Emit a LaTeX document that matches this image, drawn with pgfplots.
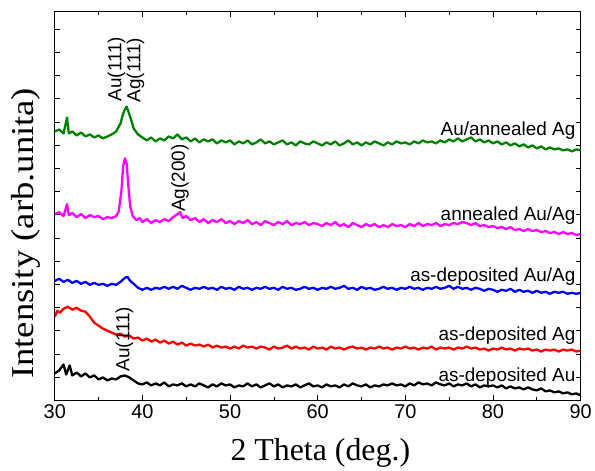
\documentclass[border=0pt]{standalone}
\usepackage{pgfplots}
\pgfplotsset{compat=1.18}
\usepackage{fontspec}
\setmainfont{Liberation Serif}
\newfontfamily\arial{Liberation Sans}
\definecolor{cgreen}{RGB}{0,128,0}
\definecolor{cmag}{RGB}{255,0,255}
\begin{document}
\begin{tikzpicture}
\begin{axis}[
  at={(0,0)}, anchor=south west,
  width=528pt, height=390pt, scale only axis,
  xmin=30, xmax=90, ymin=0, ymax=390,
  xtick={30,40,...,90}, minor x tick num=1,
  ytick={0,23.3,...,390}, yticklabel=\empty,
  tick align=inside,
  major tick length=5pt, minor tick length=3.5pt,
  axis line style={line width=1pt},
  every tick/.style={black, line width=0.7pt},
  /pgf/number format/assume math mode=true,
  xticklabel style={font=\arial\fontsize{20}{20}\selectfont, yshift=-1pt},
  xlabel={2 Theta (deg.)},
  xlabel style={font=\fontsize{32}{32}\selectfont, at={(axis description cs:0.505,-0.136)}, anchor=center},
  ylabel={\scalebox{1.15}[1]{Intensity (arb.unita)}},
  ylabel style={font=\fontsize{32}{32}\selectfont, at={(axis description cs:-0.055,0.43)}, anchor=center},
  every axis plot/.append style={line width=2.3pt, line join=round},
]
% black: as-deposited Au
\addplot[black] table[row sep=\\] {x y\\
30.0 27\\ 30.5 30\\ 31.0 36\\ 31.3 26\\ 31.7 35\\ 32.0 25\\ 32.5 28\\ 33.0 24\\ 33.5 27\\ 34.0 23\\
34.5 25\\ 35.0 21\\ 35.5 23\\ 36.0 20\\ 36.5 22\\ 37.0 21\\ 37.5 24\\ 38.0 25\\ 38.5 23\\ 39.0 20\\
39.5 17\\ 40.0 16\\ 40.5 18\\ 41.0 15\\ 41.5 17\\ 42.0 15\\ 42.5 18\\ 43.0 14\\ 43.5 16\\ 44.0 15\\
44.5 17\\ 45.0 14\\ 45.5 16\\ 46.0 14\\ 46.5 17\\ 47.0 15\\ 47.5 13\\ 48.0 16\\ 48.5 14\\ 49.0 17\\
49.5 15\\ 50.0 16\\ 50.5 13\\ 51.0 15\\ 51.5 14\\ 52.0 17\\ 52.5 14\\ 53.0 16\\ 53.5 13\\ 54.0 15\\
54.5 17\\ 55.0 14\\ 55.5 16\\ 56.0 13\\ 56.5 15\\ 57.0 14\\ 57.5 16\\ 58.0 13\\ 58.5 15\\ 59.0 17\\
59.5 14\\ 60.0 15\\ 60.5 13\\ 61.0 16\\ 61.5 14\\ 62.0 15\\ 62.5 13\\ 63.0 16\\ 63.5 14\\ 64.0 17\\
64.5 15\\ 65.0 14\\ 65.5 16\\ 66.0 13\\ 66.5 15\\ 67.0 14\\ 67.5 16\\ 68.0 15\\ 68.5 17\\ 69.0 15\\
69.5 16\\ 70.0 14\\ 70.5 17\\ 71.0 15\\ 71.5 18\\ 72.0 16\\ 72.5 17\\ 73.0 15\\ 73.5 18\\ 74.0 16\\
74.5 15\\ 75.0 17\\ 75.5 14\\ 76.0 16\\ 76.5 15\\ 77.0 17\\ 77.5 14\\ 78.0 16\\ 78.5 13\\ 79.0 15\\
79.5 14\\ 80.0 15\\ 80.5 13\\ 81.0 15\\ 81.5 12\\ 82.0 14\\ 82.5 12\\ 83.0 13\\ 83.5 11\\ 84.0 13\\
84.5 11\\ 85.0 10\\ 85.5 12\\ 86.0 9\\ 86.5 10\\ 87.0 8\\ 87.5 9\\ 88.0 7\\ 88.5 8\\ 89.0 6\\
89.5 7\\ 90.0 5\\
};
% red: as-deposited Ag
\addplot[red] table[row sep=\\] {x y\\
30.0 84\\ 30.3 90\\ 30.6 88\\ 31.0 92\\ 31.5 94\\ 32.0 91\\ 32.5 93\\ 33.0 90\\ 33.5 89\\ 34.0 84\\
34.5 78\\ 35.0 75\\ 35.5 72\\ 36.0 70\\ 36.5 68\\ 37.0 66\\ 37.5 67\\ 38.0 64\\ 38.5 65\\ 39.0 62\\
39.5 63\\ 40.0 60\\ 40.5 62\\ 41.0 59\\ 41.5 61\\ 42.0 58\\ 42.5 60\\ 43.0 57\\ 43.5 59\\ 44.0 56\\
44.5 58\\ 45.0 55\\ 45.5 57\\ 46.0 55\\ 46.5 56\\ 47.0 54\\ 47.5 56\\ 48.0 53\\ 48.5 55\\ 49.0 53\\
49.5 54\\ 50.0 52\\ 50.5 54\\ 51.0 52\\ 51.5 55\\ 52.0 53\\ 52.5 54\\ 53.0 52\\ 53.5 54\\ 54.0 53\\
54.5 51\\ 55.0 54\\ 55.5 52\\ 56.0 53\\ 56.5 55\\ 57.0 52\\ 57.5 54\\ 58.0 52\\ 58.5 53\\ 59.0 51\\
59.5 54\\ 60.0 52\\ 60.5 53\\ 61.0 51\\ 61.5 54\\ 62.0 52\\ 62.5 53\\ 63.0 51\\ 63.5 53\\ 64.0 54\\
64.5 52\\ 65.0 53\\ 65.5 51\\ 66.0 53\\ 66.5 52\\ 67.0 54\\ 67.5 52\\ 68.0 53\\ 68.5 51\\ 69.0 53\\
69.5 52\\ 70.0 54\\ 70.5 52\\ 71.0 53\\ 71.5 51\\ 72.0 53\\ 72.5 52\\ 73.0 54\\ 73.5 51\\ 74.0 53\\
74.5 52\\ 75.0 53\\ 75.5 51\\ 76.0 53\\ 76.5 52\\ 77.0 54\\ 77.5 52\\ 78.0 53\\ 78.5 51\\ 79.0 52\\
79.5 50\\ 80.0 52\\ 80.5 51\\ 81.0 53\\ 81.5 51\\ 82.0 52\\ 82.5 50\\ 83.0 52\\ 83.5 51\\ 84.0 52\\
84.5 50\\ 85.0 51\\ 85.5 49\\ 86.0 51\\ 86.5 50\\ 87.0 51\\ 87.5 49\\ 88.0 51\\ 88.5 50\\ 89.0 51\\
89.5 49\\ 90.0 50\\
};
% blue: as-deposited Au/Ag
\addplot[blue] table[row sep=\\] {x y\\
30.0 120\\ 30.5 122\\ 31.0 119\\ 31.5 121\\ 32.0 118\\ 32.5 120\\ 33.0 117\\ 33.5 119\\ 34.0 116\\ 34.5 118\\
35.0 116\\ 35.5 117\\ 36.0 115\\ 36.5 117\\ 37.0 116\\ 37.5 119\\ 38.0 123\\ 38.3 124\\ 38.6 120\\ 39.0 117\\
39.5 113\\ 40.0 111\\ 40.5 113\\ 41.0 111\\ 41.5 113\\ 42.0 112\\ 42.5 114\\ 43.0 112\\ 43.5 114\\ 44.0 112\\
44.5 115\\ 45.0 113\\ 45.5 111\\ 46.0 113\\ 46.5 112\\ 47.0 114\\ 47.5 112\\ 48.0 113\\ 48.5 111\\ 49.0 114\\
49.5 112\\ 50.0 113\\ 50.5 111\\ 51.0 114\\ 51.5 112\\ 52.0 113\\ 52.5 111\\ 53.0 113\\ 53.5 112\\ 54.0 114\\
54.5 112\\ 55.0 113\\ 55.5 111\\ 56.0 114\\ 56.5 112\\ 57.0 113\\ 57.5 111\\ 58.0 112\\ 58.5 114\\ 59.0 112\\
59.5 113\\ 60.0 111\\ 60.5 113\\ 61.0 112\\ 61.5 114\\ 62.0 112\\ 62.5 113\\ 63.0 115\\ 63.5 112\\ 64.0 113\\
64.5 111\\ 65.0 114\\ 65.5 112\\ 66.0 113\\ 66.5 111\\ 67.0 112\\ 67.5 114\\ 68.0 112\\ 68.5 113\\ 69.0 111\\
69.5 113\\ 70.0 112\\ 70.5 114\\ 71.0 112\\ 71.5 113\\ 72.0 111\\ 72.5 113\\ 73.0 112\\ 73.5 114\\ 74.0 112\\
74.5 113\\ 75.0 115\\ 75.5 112\\ 76.0 114\\ 76.5 112\\ 77.0 113\\ 77.5 111\\ 78.0 113\\ 78.5 112\\ 79.0 110\\
79.5 112\\ 80.0 111\\ 80.5 109\\ 81.0 111\\ 81.5 110\\ 82.0 112\\ 82.5 109\\ 83.0 111\\ 83.5 109\\ 84.0 110\\
84.5 108\\ 85.0 110\\ 85.5 108\\ 86.0 109\\ 86.5 107\\ 87.0 109\\ 87.5 108\\ 88.0 109\\ 88.5 107\\ 89.0 108\\
89.5 107\\ 90.0 108\\
};
% magenta: annealed Au/Ag
\addplot[cmag] table[row sep=\\] {x y\\
30.0 187\\ 30.5 189\\ 31.0 185\\ 31.4 197\\ 31.6 186\\ 32.0 188\\ 32.5 184\\ 33.0 187\\ 33.5 183\\ 34.0 186\\
34.5 184\\ 35.0 185\\ 35.5 182\\ 36.0 184\\ 36.5 183\\ 37.0 185\\ 37.3 190\\ 37.6 210\\ 37.8 235\\ 38.0 243\\
38.2 238\\ 38.4 215\\ 38.6 195\\ 38.9 185\\ 39.3 181\\ 39.7 183\\ 40.0 179\\ 40.5 182\\ 41.0 178\\ 41.5 181\\
42.0 179\\ 42.5 182\\ 43.0 180\\ 43.5 184\\ 44.0 187\\ 44.3 189\\ 44.6 183\\ 45.0 185\\ 45.5 181\\ 46.0 183\\
46.5 179\\ 47.0 182\\ 47.5 178\\ 48.0 181\\ 48.5 179\\ 49.0 182\\ 49.5 178\\ 50.0 180\\ 50.5 177\\ 51.0 180\\
51.5 178\\ 52.0 181\\ 52.5 177\\ 53.0 179\\ 53.5 176\\ 54.0 180\\ 54.5 178\\ 55.0 176\\ 55.5 179\\ 56.0 177\\
56.5 180\\ 57.0 176\\ 57.5 178\\ 58.0 177\\ 58.5 179\\ 59.0 176\\ 59.5 178\\ 60.0 177\\ 60.5 175\\ 61.0 178\\
61.5 176\\ 62.0 179\\ 62.5 175\\ 63.0 177\\ 63.5 174\\ 64.0 178\\ 64.5 176\\ 65.0 174\\ 65.5 177\\ 66.0 175\\
66.5 177\\ 67.0 174\\ 67.5 176\\ 68.0 174\\ 68.5 177\\ 69.0 175\\ 69.5 176\\ 70.0 174\\ 70.5 177\\ 71.0 175\\
71.5 178\\ 72.0 175\\ 72.5 177\\ 73.0 176\\ 73.5 178\\ 74.0 175\\ 74.5 177\\ 75.0 176\\ 75.5 178\\ 76.0 177\\
76.5 179\\ 77.0 178\\ 77.5 176\\ 78.0 178\\ 78.5 175\\ 79.0 176\\ 79.5 174\\ 80.0 175\\ 80.5 173\\ 81.0 174\\
81.5 172\\ 82.0 174\\ 82.5 171\\ 83.0 172\\ 83.5 170\\ 84.0 172\\ 84.5 170\\ 85.0 171\\ 85.5 169\\ 86.0 170\\
86.5 168\\ 87.0 169\\ 87.5 167\\ 88.0 169\\ 88.5 167\\ 89.0 168\\ 89.5 166\\ 90.0 167\\
};
% green: Au/annealed Ag
\addplot[cgreen] table[row sep=\\] {x y\\
30.0 270\\ 30.5 272\\ 31.0 268\\ 31.4 284\\ 31.6 268\\ 32.0 270\\ 32.5 266\\ 33.0 269\\ 33.5 265\\ 34.0 267\\
34.5 264\\ 35.0 266\\ 35.5 263\\ 36.0 265\\ 36.5 267\\ 37.0 270\\ 37.5 278\\ 37.8 288\\ 38.0 292\\ 38.2 295\\
38.4 290\\ 38.7 282\\ 39.0 273\\ 39.5 267\\ 40.0 264\\ 40.5 261\\ 41.0 264\\ 41.5 260\\ 42.0 263\\ 42.5 261\\
43.0 265\\ 43.5 263\\ 44.0 267\\ 44.5 262\\ 45.0 264\\ 45.5 260\\ 46.0 263\\ 46.5 259\\ 47.0 262\\ 47.5 260\\
48.0 262\\ 48.5 258\\ 49.0 261\\ 49.5 259\\ 50.0 261\\ 50.5 257\\ 51.0 260\\ 51.5 258\\ 52.0 261\\ 52.5 257\\
53.0 259\\ 53.5 262\\ 54.0 258\\ 54.5 260\\ 55.0 257\\ 55.5 259\\ 56.0 261\\ 56.5 257\\ 57.0 259\\ 57.5 256\\
58.0 260\\ 58.5 258\\ 59.0 257\\ 59.5 260\\ 60.0 258\\ 60.5 256\\ 61.0 259\\ 61.5 257\\ 62.0 260\\ 62.5 256\\
63.0 258\\ 63.5 261\\ 64.0 257\\ 64.5 259\\ 65.0 256\\ 65.5 259\\ 66.0 257\\ 66.5 260\\ 67.0 258\\ 67.5 256\\
68.0 259\\ 68.5 257\\ 69.0 260\\ 69.5 258\\ 70.0 259\\ 70.5 257\\ 71.0 260\\ 71.5 258\\ 72.0 261\\ 72.5 259\\
73.0 260\\ 73.5 258\\ 74.0 261\\ 74.5 259\\ 75.0 262\\ 75.5 260\\ 76.0 263\\ 76.5 260\\ 77.0 262\\ 77.5 264\\
78.0 260\\ 78.5 262\\ 79.0 259\\ 79.5 261\\ 80.0 258\\ 80.5 260\\ 81.0 257\\ 81.5 259\\ 82.0 256\\ 82.5 258\\
83.0 255\\ 83.5 257\\ 84.0 254\\ 84.5 256\\ 85.0 253\\ 85.5 255\\ 86.0 252\\ 86.5 254\\ 87.0 252\\ 87.5 253\\
88.0 251\\ 88.5 252\\ 89.0 250\\ 89.5 252\\ 90.0 251\\
};
% series labels
\begin{scope}[every node/.style={font=\arial\fontsize{19}{19}\selectfont, inner sep=0pt}]
\node[anchor=base east] at (axis cs:89.43,266) {Au/annealed Ag};
\node[anchor=base east] at (axis cs:89.43,181) {annealed Au/Ag};
\node[anchor=base east] at (axis cs:89.43,119) {as-deposited Au/Ag};
\node[anchor=base east] at (axis cs:89.43,60) {as-deposited Ag};
\node[anchor=base east] at (axis cs:89.43,19) {as-deposited Au};
\node[rotate=90, anchor=west] at (axis cs:37.05,300) {Au(111)};
\node[rotate=90, anchor=west] at (axis cs:39.2,299) {Ag(111)};
\node[rotate=90, anchor=west] at (axis cs:44.3,189) {Ag(200)};
\node[rotate=90, anchor=west] at (axis cs:37.95,29) {Au(111)};
\end{scope}
\end{axis}
\path (-55pt,-70pt) rectangle (540pt,402pt);
\end{tikzpicture}
\end{document}
